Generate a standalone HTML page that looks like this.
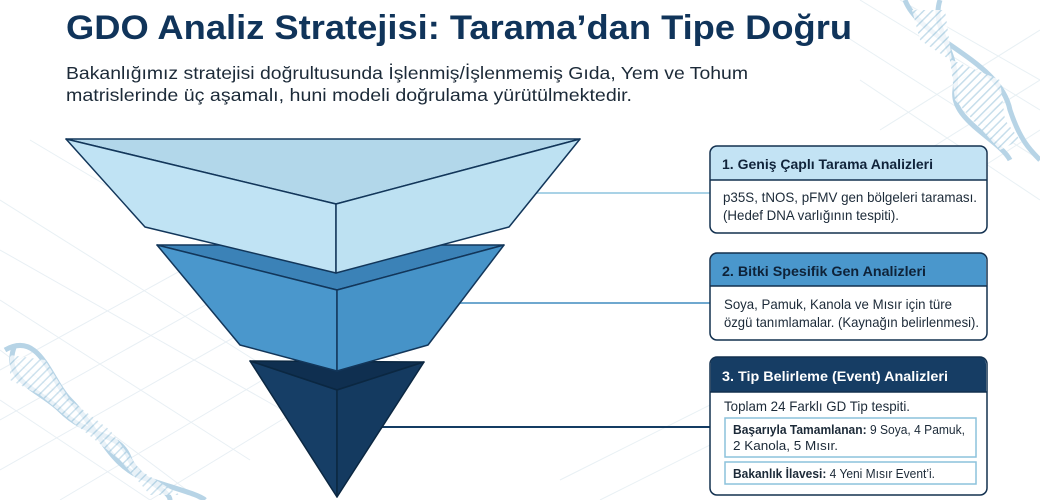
<!DOCTYPE html>
<html><head><meta charset="utf-8"><style>
html,body{margin:0;padding:0;background:#fff;}
svg{display:block;}
text{font-family:"Liberation Sans",sans-serif;}
</style></head><body>
<svg width="1040" height="500" viewBox="0 0 1040 500" xmlns="http://www.w3.org/2000/svg">
<defs>
<pattern id="hatch" width="6" height="6" patternUnits="userSpaceOnUse" patternTransform="rotate(45)">
<rect width="6" height="6" fill="#fff"/><line x1="0" y1="0" x2="0" y2="6" stroke="#b9d6e6" stroke-width="3"/>
</pattern>
</defs>
<rect width="1040" height="500" fill="#fff"/>
<g stroke="#e6eef3" stroke-width="1" fill="none" opacity="0.9">
<path d="M0 250 L300 420 M0 300 L250 460 M0 350 L200 500 M0 400 L150 500 M30 140 L400 360 M0 200 L350 420"/>
<path d="M0 420 L250 280 M0 470 L300 300 M60 500 L330 340 M150 500 L380 360 M0 370 L200 260"/>
<path d="M860 0 L1040 110 M900 0 L1040 80 M820 20 L1040 160 M860 80 L1040 200 M1040 30 L880 130 M1040 80 L880 180 M1040 130 L900 220"/>
<path d="M560 480 L760 380 M600 500 L800 400"/>
</g>
<g fill="none" stroke="#b7d4e6" stroke-width="5">
<path d="M905 0 C 920 40, 1000 60, 1010 110 C 1020 140, 1030 150, 1040 160"/>
<path d="M940 0 C 930 30, 960 50, 955 90 C 950 120, 1000 140, 1010 160"/>
</g>
<path d="M912 10 L945 10 L952 60 L1000 80 L1005 120 L1020 140 L1000 150 L955 100 L950 60 L920 40Z" fill="url(#hatch)" opacity="0.8"/>
<g fill="none" stroke="#b7d4e6" stroke-width="5">
<path d="M5 350 C 40 330, 50 380, 70 400 C 100 430, 110 470, 150 480 C 180 490, 200 495, 205 500"/>
<path d="M15 345 C 0 380, 40 390, 60 410 C 90 440, 120 430, 130 460 C 140 480, 170 490, 170 500"/>
</g>
<path d="M10 355 L45 360 L70 400 L110 430 L140 470 L180 495 L150 495 L120 460 L70 420 L40 395 L10 380Z" fill="url(#hatch)" opacity="0.7"/>

<text x="66" y="39" font-size="34" font-weight="bold" fill="#10345a" textLength="786" lengthAdjust="spacingAndGlyphs">GDO Analiz Stratejisi: Tarama’dan Tipe Doğru</text>
<text x="66" y="79" font-size="17.5" fill="#1c2a38" textLength="682" lengthAdjust="spacingAndGlyphs">Bakanlığımız stratejisi doğrultusunda İşlenmiş/İşlenmemiş Gıda, Yem ve Tohum</text>
<text x="66" y="101" font-size="17.5" fill="#1c2a38" textLength="566" lengthAdjust="spacingAndGlyphs">matrislerinde üç aşamalı, huni modeli doğrulama yürütülmektedir.</text>

<line x1="500" y1="193" x2="710" y2="193" stroke="#a9d2e6" stroke-width="2"/>
<line x1="455" y1="303" x2="710" y2="303" stroke="#6fa8cf" stroke-width="2"/>
<line x1="380" y1="427" x2="710" y2="427" stroke="#143c63" stroke-width="2"/>

<g stroke="#0b2741" stroke-width="1.5" stroke-linejoin="round">
<polygon points="250,361 424,362 337,390" fill="#0f2f50"/>
<polygon points="250,361 337,390 337,497" fill="#163e66"/>
<polygon points="424,362 337,390 337,497" fill="#143a60"/>
</g>
<g stroke="#12365a" stroke-width="1.5" stroke-linejoin="round">
<polygon points="157,245 504,245 337,290" fill="#3b82b7"/>
<polygon points="157,245 337,290 337,371 240,345" fill="#4a97cc"/>
<polygon points="504,245 337,290 337,371 428,345" fill="#4693c8"/>
</g>
<g stroke="#12365a" stroke-width="1.5" stroke-linejoin="round">
<polygon points="66,139 580,139 336,204" fill="#b2d7ea"/>
<polygon points="66,139 336,204 336,273 145,227" fill="#c0e3f4"/>
<polygon points="580,139 336,204 336,273 509,227" fill="#bde1f2"/>
</g>

<rect x="710" y="146" width="277" height="87" rx="7" fill="#fff"/>
<path d="M710.75 180 V153 a7 7 0 0 1 7 -7 H979 a7 7 0 0 1 7 7 V180Z" fill="#c3e3f4"/>
<line x1="710" y1="180" x2="987" y2="180" stroke="#12304f" stroke-width="1.5"/>
<rect x="710" y="146" width="277" height="87" rx="7" fill="none" stroke="#12304f" stroke-width="1.5"/>
<text x="722" y="169" font-size="14" font-weight="bold" fill="#10233a" textLength="211" lengthAdjust="spacingAndGlyphs">1. Geniş Çaplı Tarama Analizleri</text>
<text x="723" y="202" font-size="14" fill="#1c2a38" textLength="254" lengthAdjust="spacingAndGlyphs">p35S, tNOS, pFMV gen bölgeleri taraması.</text>
<text x="723" y="220" font-size="14" fill="#1c2a38" textLength="176" lengthAdjust="spacingAndGlyphs">(Hedef DNA varlığının tespiti).</text>

<rect x="710" y="253" width="277" height="87" rx="7" fill="#fff"/>
<path d="M710.75 286 V260 a7 7 0 0 1 7 -7 H979 a7 7 0 0 1 7 7 V286Z" fill="#4a97cc"/>
<line x1="710" y1="286" x2="987" y2="286" stroke="#12304f" stroke-width="1.5"/>
<rect x="710" y="253" width="277" height="87" rx="7" fill="none" stroke="#12304f" stroke-width="1.5"/>
<text x="722" y="276" font-size="14" font-weight="bold" fill="#0e2238" textLength="204" lengthAdjust="spacingAndGlyphs">2. Bitki Spesifik Gen Analizleri</text>
<text x="724" y="309" font-size="14" fill="#1c2a38" textLength="228" lengthAdjust="spacingAndGlyphs">Soya, Pamuk, Kanola ve Mısır için türe</text>
<text x="724" y="327" font-size="14" fill="#1c2a38" textLength="255" lengthAdjust="spacingAndGlyphs">özgü tanımlamalar. (Kaynağın belirlenmesi).</text>

<rect x="710" y="357" width="277" height="138" rx="7" fill="#fff"/>
<path d="M710.75 392 V364 a7 7 0 0 1 7 -7 H979 a7 7 0 0 1 7 7 V392Z" fill="#163d64"/>
<line x1="710" y1="392" x2="987" y2="392" stroke="#12304f" stroke-width="1.5"/>
<rect x="710" y="357" width="277" height="138" rx="7" fill="none" stroke="#12304f" stroke-width="1.5"/>
<text x="722" y="381" font-size="14" font-weight="bold" fill="#ffffff" textLength="226" lengthAdjust="spacingAndGlyphs">3. Tip Belirleme (Event) Analizleri</text>
<text x="724" y="411" font-size="14" fill="#1c2a38" textLength="186" lengthAdjust="spacingAndGlyphs">Toplam 24 Farklı GD Tip tespiti.</text>
<rect x="725" y="418" width="251" height="39" fill="#fff" stroke="#8cc2dc" stroke-width="1.5"/>
<text x="733" y="434" font-size="13" fill="#1c2a38" textLength="232" lengthAdjust="spacingAndGlyphs"><tspan font-weight="bold">Başarıyla Tamamlanan:</tspan> 9 Soya, 4 Pamuk,</text>
<text x="733" y="450" font-size="13" fill="#1c2a38" textLength="105" lengthAdjust="spacingAndGlyphs">2 Kanola, 5 Mısır.</text>
<rect x="725" y="462" width="251" height="22" fill="#fff" stroke="#8cc2dc" stroke-width="1.5"/>
<text x="733" y="478" font-size="13" fill="#1c2a38" textLength="202" lengthAdjust="spacingAndGlyphs"><tspan font-weight="bold">Bakanlık İlavesi:</tspan> 4 Yeni Mısır Event’i.</text>
</svg>
</body></html>
